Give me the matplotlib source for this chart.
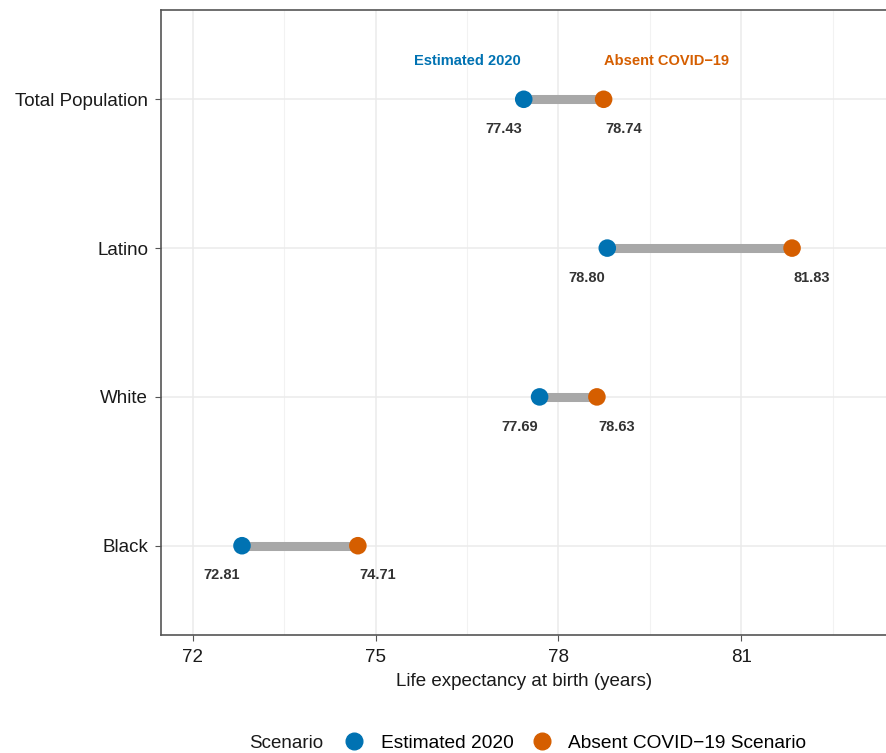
import numpy as np
import matplotlib.pyplot as plt
from matplotlib.lines import Line2D

plt.rcParams['font.family'] = ['Liberation Sans', 'DejaVu Sans']

groups = ['Black', 'White', 'Latino', 'Total Population']
estimated_2020 = [72.81, 77.69, 78.80, 77.43]
absent_covid = [74.71, 78.63, 81.83, 78.74]
x_ticks = [72, 75, 78, 81]
x_minor = [73.5, 76.5, 79.5, 82.5]

blue = '#0072B2'
orange = '#D55E00'
grey_seg = '#A8A8A8'

fig = plt.figure(figsize=(8.87, 7.53), dpi=100)
ax = fig.add_axes([160.7 / 887, 1 - 635 / 753, 1 - 160.7 / 887, (635 - 10) / 753])

y = np.arange(1, len(groups) + 1)

ax.hlines(y, estimated_2020, absent_covid, color=grey_seg, lw=6.5, zorder=2)
ax.scatter(estimated_2020, y, s=160, color=blue, zorder=3, edgecolors='none')
ax.scatter(absent_covid, y, s=160, color=orange, zorder=3, edgecolors='none')

for yi, e, a in zip(y, estimated_2020, absent_covid):
    ax.text(e - 0.33, yi - 0.2, f'{e:.2f}', ha='center', va='center',
            fontsize=10.5, fontweight='bold', color='#333333')
    ax.text(a + 0.33, yi - 0.2, f'{a:.2f}', ha='center', va='center',
            fontsize=10.5, fontweight='bold', color='#333333')

# series labels above the top row
ax.text(estimated_2020[-1] - 0.05, 4.255, 'Estimated 2020', ha='right', va='center',
        fontsize=10.5, fontweight='bold', color=blue)
ax.text(absent_covid[-1], 4.255, 'Absent COVID\u221219', ha='left', va='center',
        fontsize=10.5, fontweight='bold', color=orange)

ax.set_xlim(71.477, 83.387)
ax.set_ylim(0.4, 4.6)
ax.set_yticks(y)
ax.set_yticklabels(groups)
ax.set_xticks(x_ticks)
ax.set_xticks(x_minor, minor=True)
ax.tick_params(axis='both', which='major', labelsize=13.5, length=4, color='#555555',
               labelcolor='#1a1a1a')
ax.tick_params(axis='x', which='major', pad=6)
ax.tick_params(axis='y', which='major', pad=5)
ax.tick_params(axis='x', which='minor', length=0)

ax.grid(True, which='major', color='#EBEBEB', lw=1.1, zorder=0)
ax.grid(True, which='minor', axis='x', color='#F2F2F2', lw=0.8, zorder=0)
ax.set_axisbelow(True)

for side in ['left', 'top', 'bottom']:
    ax.spines[side].set_color('#555555')
    ax.spines[side].set_linewidth(1.2)
ax.spines['right'].set_visible(False)

ax.set_xlabel('Life expectancy at birth (years)', fontsize=13.5, color='#1a1a1a', labelpad=5)

# legend at the bottom
fig.text(286 / 887, 1 - 743 / 753, 'Scenario', ha='center', va='center',
         fontsize=13.5, color='#1a1a1a')
handles = [
    Line2D([], [], marker='o', ls='none', color=blue, markersize=12),
    Line2D([], [], marker='o', ls='none', color=orange, markersize=12),
]
fig.legend(handles, ['Estimated 2020', 'Absent COVID\u221219 Scenario'],
           loc='center left', bbox_to_anchor=(342.5 / 887, 1 - 743 / 753), ncol=2,
           frameon=False, fontsize=13.8, handletextpad=0.8, columnspacing=0.86,
           handlelength=1.2, borderpad=0, borderaxespad=0)

fig.savefig('out.png', dpi=100)
